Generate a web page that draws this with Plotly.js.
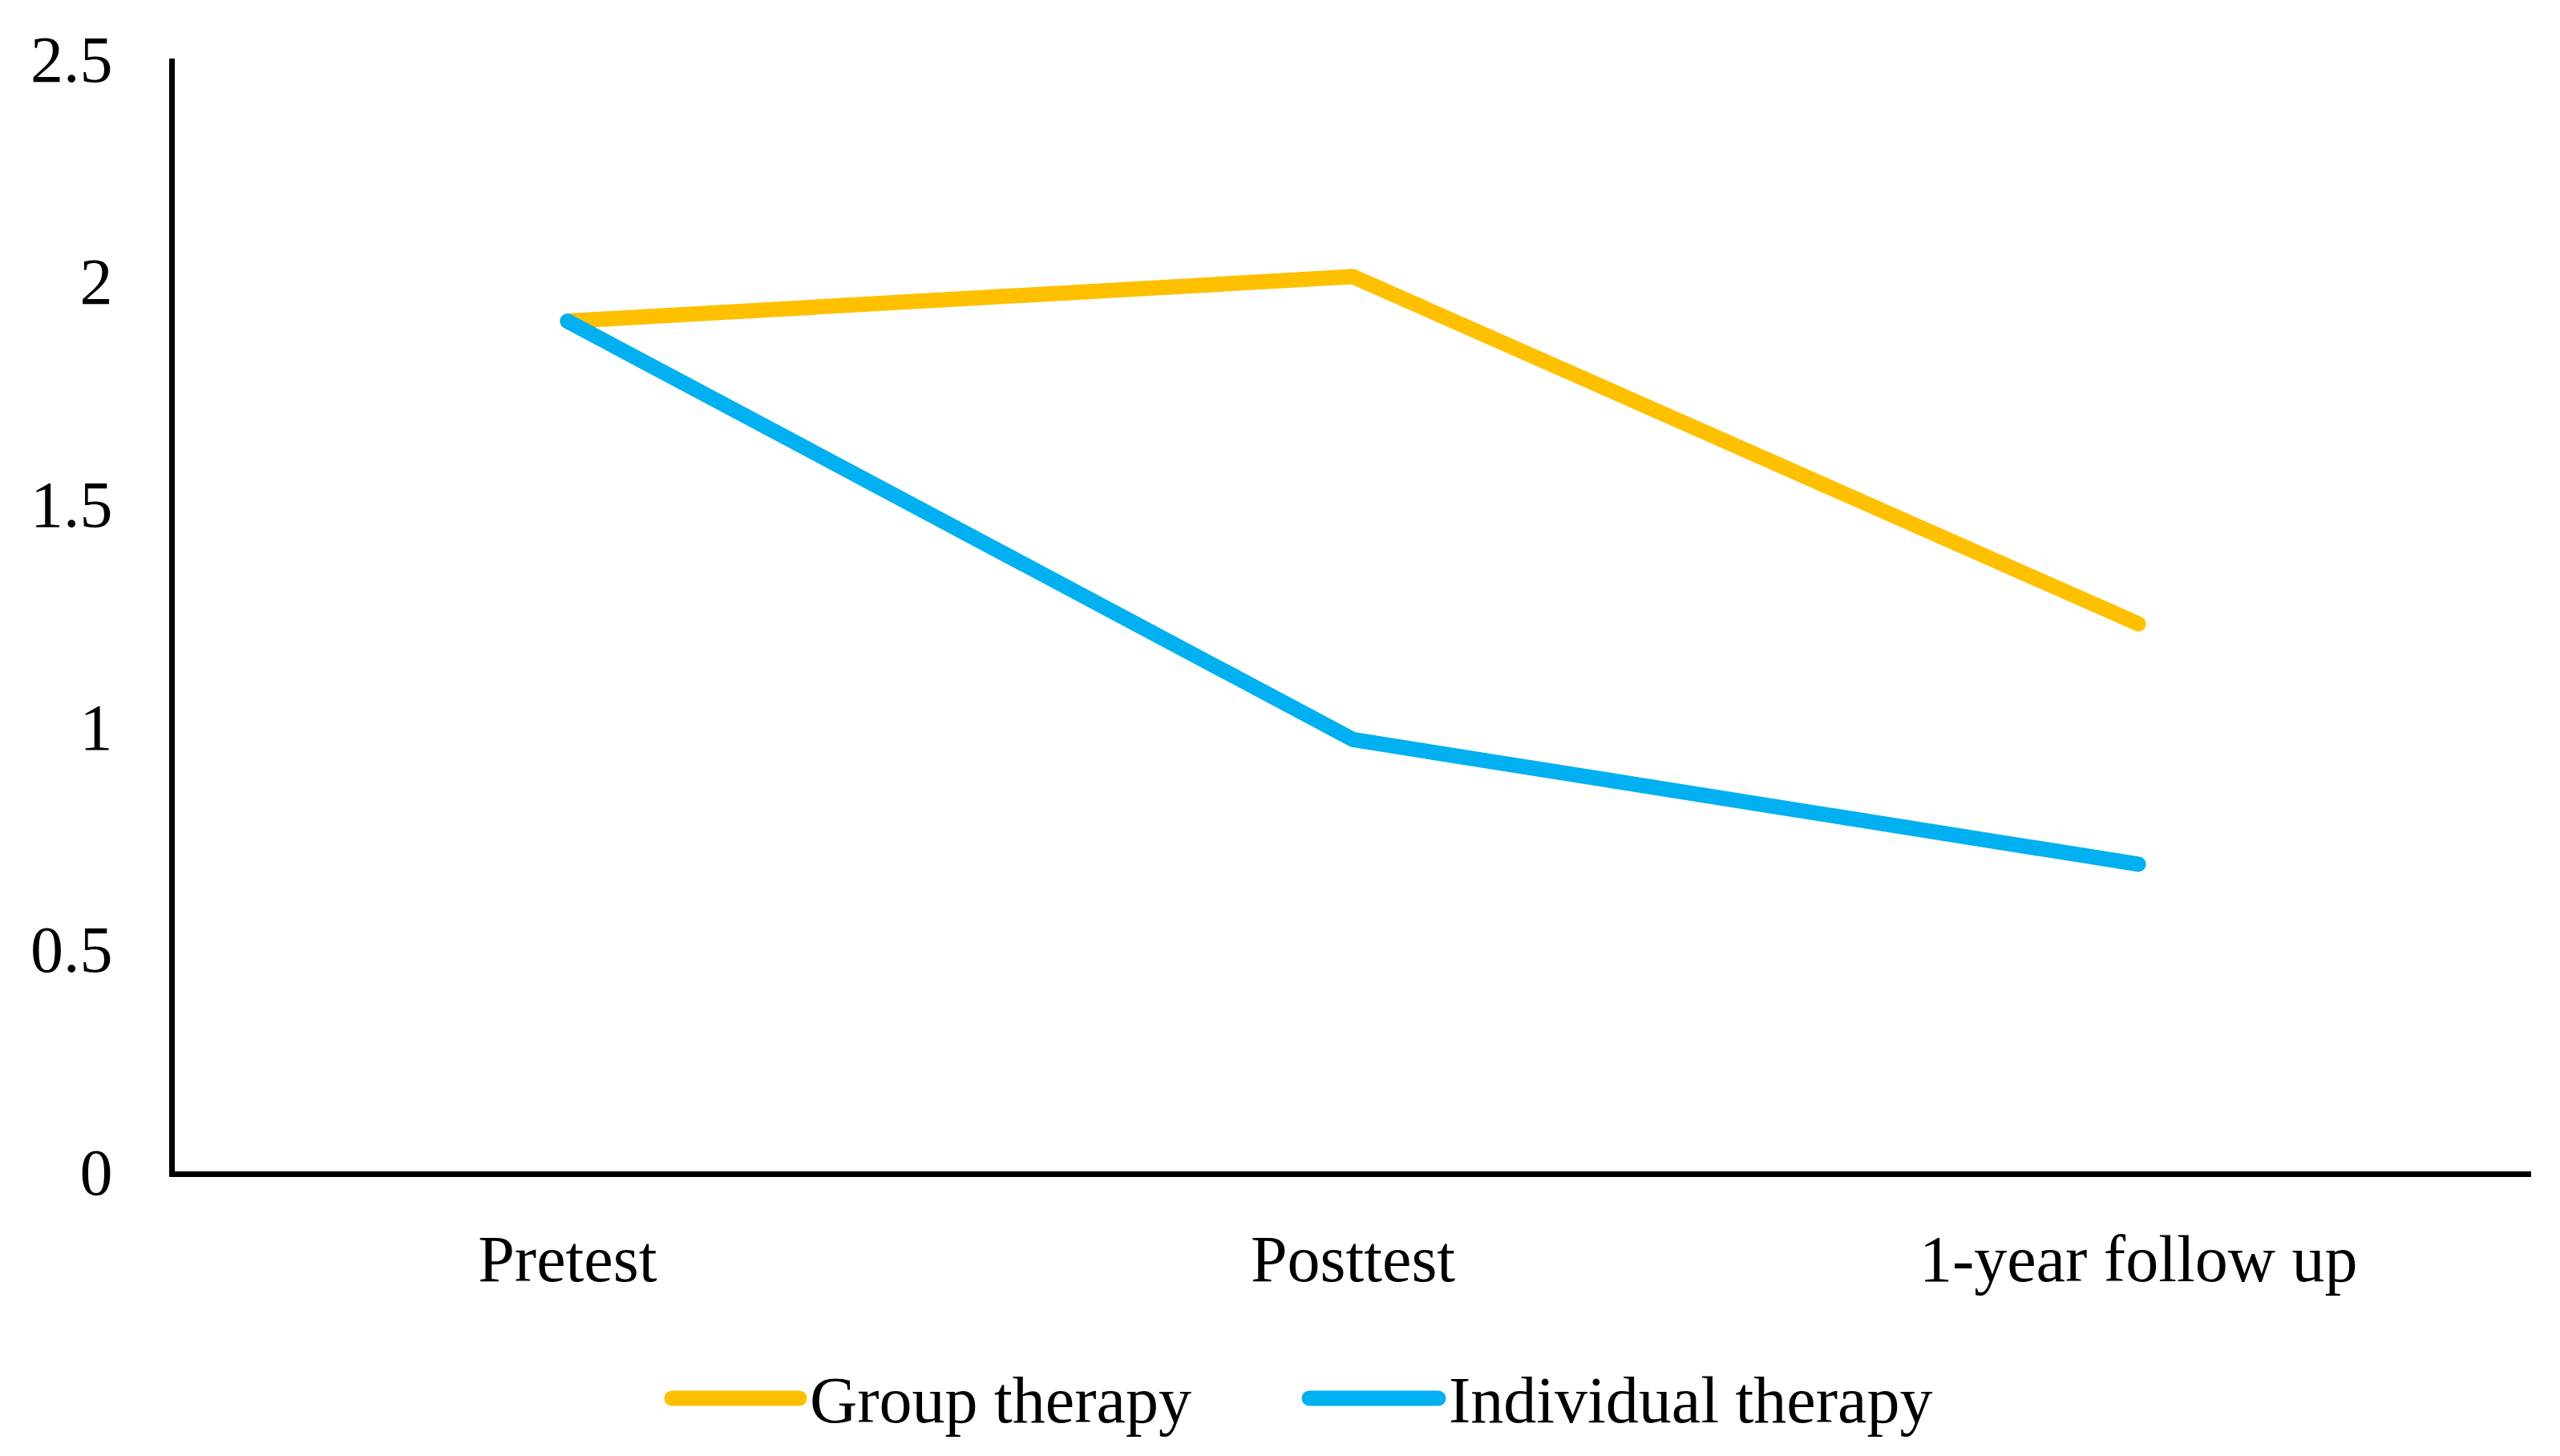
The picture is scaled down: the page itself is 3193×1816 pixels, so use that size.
<!DOCTYPE html>
<html>
<head>
<meta charset="utf-8">
<script src="https://cdn.plot.ly/plotly-3.0.1.min.js"></script>
<style>
html, body { margin: 0; padding: 0; background: #fff; }
#chart { width: 3193px; height: 1816px; }
.js-line { stroke-linecap: round; stroke-linejoin: round; }
.shapelayer path { stroke-linecap: round; }
</style>
</head>
<body>
<div id="chart"></div>
<script>
const categories = ["Pretest", "Posttest", "1-year follow up"];
const seriesNames = ["Group therapy", "Individual therapy"];
const groupValues = [1.91, 2.01, 1.23];
const individualValues = [1.91, 0.97, 0.69];
const yTickValues = [0, 0.5, 1, 1.5, 2, 2.5];
const yTickLabels = ["0", "0.5", "1", "1.5", "2", "2.5"];

const colors = ["#FFC000", "#00B0F0"];
const FONT = "Liberation Serif, Times New Roman, serif";
const FS = 82;
const W = 3193, H = 1816;
const M = { l: 218, r: 36, t: 73, b: 355 };
const plotW = W - M.l - M.r, plotH = H - M.t - M.b;

const traces = [
  { x: categories, y: groupValues, name: seriesNames[0], type: "scatter", mode: "lines",
    line: { color: colors[0], width: 19 }, showlegend: false, hoverinfo: "skip" },
  { x: categories, y: individualValues, name: seriesNames[1], type: "scatter", mode: "lines",
    line: { color: colors[1], width: 19 }, showlegend: false, hoverinfo: "skip" }
];

// custom legend (symbols + labels) placed below the plot
const px2x = p => (p - M.l) / plotW;
const px2y = p => (H - M.b - p) / plotH;
const legendItems = [
  { x0: 838, x1: 997, tx: 1008 },
  { x0: 1633, x1: 1794, tx: 1805 }
];
const legendY = 1744;
const shapes = legendItems.map((it, i) => ({
  type: "line", xref: "paper", yref: "paper",
  x0: px2x(it.x0), x1: px2x(it.x1), y0: px2y(legendY), y1: px2y(legendY),
  line: { color: colors[i], width: 19 }
}));
const annotations = legendItems.map((it, i) => ({
  text: seriesNames[i], xref: "paper", yref: "paper",
  x: px2x(it.tx), y: px2y(legendY + 2), xanchor: "left", yanchor: "middle",
  showarrow: false, font: { family: FONT, size: FS, color: "#000" }
}));

const layout = {
  width: W, height: H,
  margin: M,
  paper_bgcolor: "#fff", plot_bgcolor: "#fff",
  font: { family: FONT, size: FS, color: "#000" },
  xaxis: {
    type: "category", range: [-0.5, 2.5],
    showgrid: false, zeroline: false,
    showline: true, linecolor: "#000", linewidth: 7,
    ticks: "", ticklabelstandoff: 32,
    tickfont: { family: FONT, size: FS, color: "#000" },
    fixedrange: true
  },
  yaxis: {
    range: [0, 2.5], tickvals: yTickValues, ticktext: yTickLabels,
    showgrid: false, zeroline: false,
    showline: true, linecolor: "#000", linewidth: 7,
    ticks: "", ticklabelstandoff: 54,
    tickfont: { family: FONT, size: FS, color: "#000" },
    fixedrange: true
  },
  shapes: shapes,
  annotations: annotations,
  showlegend: false
};

Plotly.newPlot("chart", traces, layout, { staticPlot: true, displayModeBar: false });
</script>
</body>
</html>
